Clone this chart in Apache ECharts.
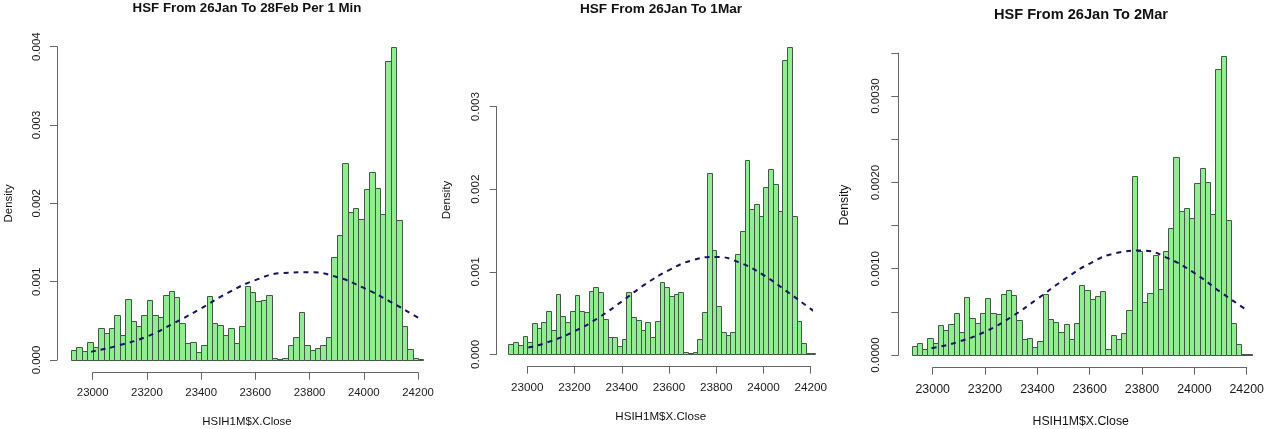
<!DOCTYPE html>
<html><head><meta charset="utf-8">
<script src="https://cdn.jsdelivr.net/npm/echarts@6/dist/echarts.min.js"></script>
<style>html,body{margin:0;padding:0;background:#fff}#c{width:1269px;height:429px}</style>
</head><body><div id="c"></div>
<script>
// ---- data ----
const binEdges = [22920, 22940, 22960, 22980, 23000, 23020, 23040, 23060, 23080, 23100,
  23120, 23140, 23160, 23180, 23200, 23220, 23240, 23260, 23280, 23300,
  23320, 23340, 23360, 23380, 23400, 23420, 23440, 23460, 23480, 23500,
  23520, 23540, 23560, 23580, 23600, 23620, 23640, 23660, 23680, 23700,
  23720, 23740, 23760, 23780, 23800, 23820, 23840, 23860, 23880, 23900,
  23920, 23940, 23960, 23980, 24000, 24020, 24040, 24060, 24080, 24100,
  24120, 24140, 24160, 24180, 24200, 24220];

const density28Feb = [0.000132, 0.000162, 0.00011, 0.000234, 0.000162, 0.000404, 0.000349, 0.000413, 0.00057, 0.000315,
  0.000774, 0.000502, 0.00043, 0.00057, 0.00077, 0.00057, 0.000553, 0.000826, 0.00088, 0.000809,
  0.000468, 0.000213, 0.000234, 0.000102, 0.000191, 0.000821, 0.000477, 0.000443, 0.000315, 0.000413,
  0.000221, 0.00043, 0.000945, 0.000864, 0.000749, 0.00077, 0.000826, 0.000026, 0.00001, 0.000026,
  0.000187, 0.000289, 0.000613, 0.00019, 0.000128, 0.00015, 0.00019, 0.0003, 0.00131, 0.0016,
  0.00252, 0.00189, 0.00194, 0.0018, 0.00218, 0.0024, 0.0022, 0.00187, 0.00382, 0.004,
  0.00179, 0.00043, 0.000136, 0.00002, 0.000017];

const density1Mar = [0.000125, 0.000153, 0.000109, 0.000218, 0.000153, 0.000384, 0.000323, 0.000388, 0.000529, 0.000295,
  0.000727, 0.00047, 0.00039, 0.00053, 0.00072, 0.00053, 0.00051, 0.00077, 0.00082, 0.00075,
  0.00043, 0.00021, 0.00021, 0.0001, 0.00018, 0.00076, 0.00045, 0.00042, 0.0003, 0.00039,
  0.00021, 0.0004, 0.00088, 0.00081, 0.00071, 0.00073, 0.00076, 0.00003, 0.00002, 0.00003,
  0.00018, 0.00051, 0.0022, 0.00126, 0.00058, 0.00027, 0.00023, 0.00027, 0.00122, 0.00149,
  0.00235, 0.00176, 0.00182, 0.00168, 0.00203, 0.00224, 0.00206, 0.00174, 0.00356, 0.00372,
  0.00167, 0.0004, 0.000137, 0.00002, 0.00002];

const density2Mar = [0.000108, 0.000139, 0.000073, 0.000197, 0.000143, 0.000344, 0.000293, 0.000359, 0.000483, 0.00027,
  0.000668, 0.000432, 0.00037, 0.000483, 0.00066, 0.000483, 0.000475, 0.00071, 0.000757, 0.000695,
  0.0004, 0.00018, 0.000197, 0.000089, 0.000158, 0.000703, 0.000413, 0.000382, 0.00027, 0.000363,
  0.000189, 0.000367, 0.000815, 0.000749, 0.000645, 0.000683, 0.000741, 0.000073, 0.000228, 0.00018,
  0.000259, 0.000521, 0.00207, 0.0012, 0.00062, 0.00072, 0.00116, 0.00076, 0.0012, 0.00147,
  0.00229, 0.00167, 0.0017, 0.00159, 0.00199, 0.00217, 0.00201, 0.00163, 0.00332, 0.00347,
  0.00156, 0.00037, 0.00013, 0.00001, 0.00001];

const curveX = [22920, 23000, 23100, 23200, 23300, 23400, 23500, 23600, 23700, 23800, 23900, 24000, 24100, 24200, 24220];
const normal28Feb = [0.00006, 0.00011, 0.00019, 0.0003, 0.00047, 0.00066, 0.00086, 0.00102, 0.00111, 0.00112, 0.00106, 0.00092, 0.00074, 0.00054, 0.0005];
const normal1Mar  = [0.00005, 0.00008, 0.00016, 0.00028, 0.00044, 0.00064, 0.00085, 0.00102, 0.00114, 0.00118, 0.00111, 0.00096, 0.00076, 0.00055, 0.00051];
const normal2Mar  = [0.000045, 0.00008, 0.000155, 0.00027, 0.00044, 0.00065, 0.00087, 0.00106, 0.00118, 0.00121, 0.00112, 0.00095, 0.00073, 0.00052, 0.00048];

const titles = ['HSF From 26Jan To 28Feb Per 1 Min', 'HSF From 26Jan To 1Mar', 'HSF From 26Jan To 2Mar'];
const xAxisTitle = 'HSIH1M$X.Close';
const yAxisTitle = 'Density';
const xTickLabels = ['23000', '23200', '23400', '23600', '23800', '24000', '24200'];
const yTicks28Feb = ['0.000', '0.001', '0.002', '0.003', '0.004'];
const yTicks1Mar = ['0.000', '0.001', '0.002', '0.003'];
const yTicks2Mar = ['0.0000', '', '0.0010', '', '0.0020', '', '0.0030', ''];

// ---- layout / style ----
const FONT = '"Liberation Sans", Arial, sans-serif';
const panels = [
  { dens: density28Feb, norm: normal28Feb, yTicks: yTicks28Feb, yMax: 0.004, yInt: 0.001,
    grid: { left: 92.7, top: 46.7, width: 325.3, height: 313.3 }, xOff: 12.7, yOff: 35.7,
    title: { x: 247, top: 1.5, size: 13.3 }, tick: 11.4, ytick: 11.4, xm: 15, ym: 15,
    dens_lbl: [9, 203.4], x_lbl: [247, 421.7], lbl: 11.4 },
  { dens: density1Mar, norm: normal1Mar, yTicks: yTicks1Mar, yMax: 0.003, yInt: 0.001,
    grid: { left: 527.3, top: 106.7, width: 283.4, height: 247.6 }, xOff: 12.4, yOff: 30.6,
    title: { x: 661, top: 2, size: 13.6 }, tick: 11.7, ytick: 11.7, xm: 15.5, ym: 15,
    dens_lbl: [446.7, 200], x_lbl: [660.7, 416.7], lbl: 11.6 },
  { dens: density2Mar, norm: normal2Mar, yTicks: yTicks2Mar, yMax: 0.0035, yInt: 0.0005,
    grid: { left: 932.7, top: 53, width: 314, height: 302 }, xOff: 12.7, yOff: 34.4,
    title: { x: 1081, top: 7.5, size: 14.6 }, tick: 12.4, ytick: 11.6, xm: 16, ym: 16.5,
    dens_lbl: [845, 205], x_lbl: [1080.7, 421.7], lbl: 12.3 }
];

function barItem(params, api) {
  const a = api.coord([api.value(0), 0]);
  const b = api.coord([api.value(1), api.value(2)]);
  const x0 = Math.round(a[0]) + 0.5, x1 = Math.round(b[0]) + 0.5;
  const yb = Math.round(a[1]) + 0.5, yt = Math.round(b[1]) + 0.5;
  return {
    type: 'rect',
    shape: { x: x0, y: yt, width: x1 - x0, height: yb - yt },
    style: { fill: '#90EE90', stroke: '#44584a', lineWidth: 1 }
  };
}

const option = {
  animation: false,
  backgroundColor: '#ffffff',
  title: panels.map((p, i) => ({
    text: titles[i], left: p.title.x, top: p.title.top, textAlign: 'center', padding: 0,
    textStyle: { fontFamily: FONT, fontSize: p.title.size, fontWeight: 'bold', color: '#111' }
  })),
  grid: panels.map(p => Object.assign({ containLabel: false }, p.grid)),
  xAxis: panels.map((p, i) => ({
    gridIndex: i, type: 'value', min: 23000, max: 24200, interval: 200, offset: p.xOff,
    axisLine: { show: true, onZero: false, lineStyle: { color: '#666', width: 1 } },
    axisTick: { show: true, length: 7, lineStyle: { color: '#666', width: 1 } },
    axisLabel: { color: '#1a1a1a', fontFamily: FONT, fontSize: p.tick, margin: p.xm,
      formatter: v => xTickLabels[Math.round((v - 23000) / 200)] || '' },
    splitLine: { show: false }
  })),
  yAxis: panels.map((p, i) => ({
    gridIndex: i, type: 'value', min: 0, max: p.yMax, interval: p.yInt, offset: p.yOff,
    axisLine: { show: true, onZero: false, lineStyle: { color: '#666', width: 1 } },
    axisTick: { show: true, length: 7, lineStyle: { color: '#666', width: 1 } },
    axisLabel: { rotate: 90, color: '#1a1a1a', fontFamily: FONT, fontSize: p.ytick, margin: p.ym,
      formatter: v => { const t = p.yTicks[Math.round(v / p.yInt)]; return t === undefined ? '' : t; } },
    splitLine: { show: false }
  })),
  graphic: panels.flatMap(p => [
    { type: 'text', x: p.dens_lbl[0], y: p.dens_lbl[1], rotation: Math.PI / 2, silent: true,
      style: { text: yAxisTitle, align: 'center', verticalAlign: 'middle', textAlign: 'center', textVerticalAlign: 'middle',
        font: p.lbl + 'px ' + FONT, fill: '#111' } },
    { type: 'text', x: p.x_lbl[0], y: p.x_lbl[1], silent: true,
      style: { text: xAxisTitle, align: 'center', verticalAlign: 'middle', textAlign: 'center', textVerticalAlign: 'middle',
        font: p.lbl + 'px ' + FONT, fill: '#111' } }
  ]),
  series: panels.flatMap((p, i) => [
    { type: 'custom', xAxisIndex: i, yAxisIndex: i, clip: false, silent: true, z: 2,
      renderItem: barItem, encode: { x: [0, 1], y: 2 },
      data: p.dens.map((d, j) => [binEdges[j], binEdges[j + 1], d]) },
    { type: 'line', xAxisIndex: i, yAxisIndex: i, clip: false, silent: true, z: 5,
      smooth: true, symbol: 'none', showSymbol: false,
      lineStyle: { color: '#141460', width: 2, type: [5, 5] },
      data: curveX.map((x, j) => [x, p.norm[j]]) }
  ])
};

const chart = echarts.init(document.getElementById('c'), null, { renderer: 'canvas' });
chart.setOption(option);
</script>
</body></html>
